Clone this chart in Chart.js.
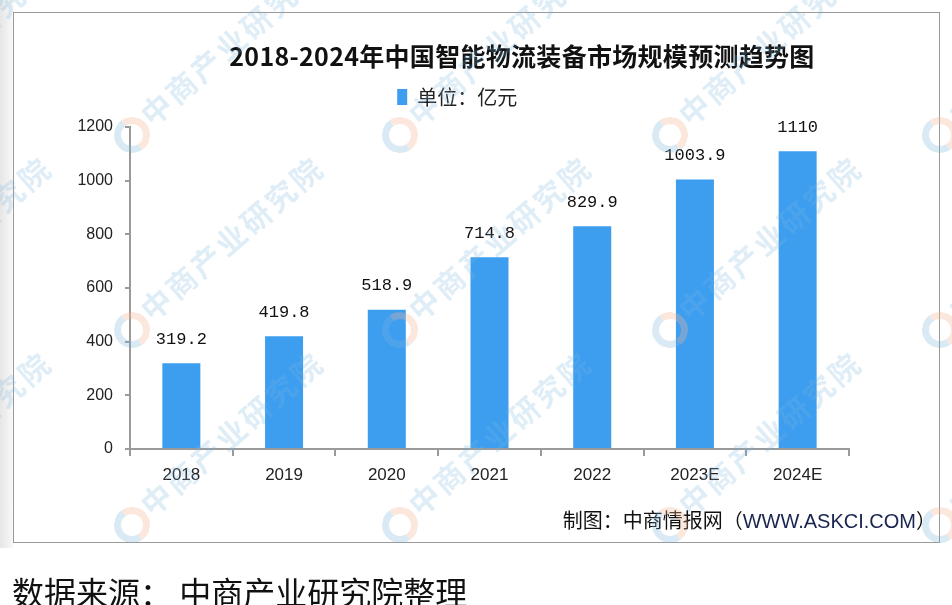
<!DOCTYPE html>
<html><head><meta charset="utf-8">
<script src="https://cdn.jsdelivr.net/npm/chart.js@4/dist/chart.umd.min.js"></script>
<style>
html,body{margin:0;padding:0;}
body{width:952px;height:605px;overflow:hidden;background:#fff;position:relative;font-family:"Noto Sans CJK SC","Noto Sans",sans-serif;}
#strip{position:absolute;left:0;top:0;width:14px;height:548px;background:linear-gradient(to right,#e6e6e6,#fafafa);}
#frame{position:absolute;left:13px;top:12px;width:925px;height:529px;border:1px solid #9a9a9a;background:#fff;}
#c{position:absolute;left:0;top:0;}
#title{position:absolute;left:522px;top:38px;transform:translateX(-50%);font-size:25px;font-weight:700;line-height:34px;color:#111;white-space:nowrap;letter-spacing:0.3px;}
#footer{position:absolute;right:16px;top:506px;font-size:20px;line-height:28px;color:#111;white-space:nowrap;}
#footer span{font-family:"Liberation Sans",Arial,sans-serif;color:#1a2450;}
#source{position:absolute;left:12px;top:569px;font-size:32px;line-height:44px;color:#111;white-space:nowrap;}
#wm{position:absolute;left:0;top:0;width:952px;height:545px;overflow:hidden;pointer-events:none;}
.wt{position:absolute;font-size:30px;line-height:34px;font-weight:700;color:rgba(120,180,220,0.24);white-space:nowrap;transform-origin:0 50%;transform:rotate(-41deg);letter-spacing:3px;}
.wl{position:absolute;width:22px;height:22px;border-radius:50%;border:7px solid;border-color:rgba(245,180,150,0.32) rgba(245,180,150,0.32) rgba(120,180,220,0.28) rgba(120,180,220,0.28);transform:rotate(10deg);}
</style></head>
<body>
<div id="strip"></div>
<div id="frame"></div>
<canvas id="c" width="952" height="605"></canvas>
<div id="title">2018-2024年中国智能物流装备市场规模预测趋势图</div>
<div id="footer">制图：中商情报网（<span>WWW.ASKCI.COM</span>）</div>
<div id="source">数据来源：&nbsp;中商产业研究院整理</div>
<div id="wm"></div>
<script>
// ---- data ----
const categories = ["2018","2019","2020","2021","2022","2023E","2024E"];
const marketSize = [319.2, 419.8, 518.9, 714.8, 829.9, 1003.9, 1110];
const seriesLabel = "单位：亿元";
const yTicks = [0, 200, 400, 600, 800, 1000, 1200];
const watermarkText = "中商产业研究院";

const target = {left:130, right:849, top:127, bottom:449};

const valueLabels = {
  id: 'valueLabels',
  afterDatasetsDraw(chart) {
    const ctx = chart.ctx;
    const meta = chart.getDatasetMeta(0);
    ctx.save();
    ctx.font = '17px "Liberation Mono", "DejaVu Sans Mono", monospace';
    ctx.fillStyle = '#111';
    ctx.textAlign = 'center';
    ctx.textBaseline = 'middle';
    meta.data.forEach((bar, i) => {
      ctx.fillText(String(marketSize[i]), bar.x, bar.y - 24);
    });
    ctx.restore();
  }
};

const axisColor = '#9a9a9a';
const yTickFont = {family: '"Liberation Sans", Arial, sans-serif', size: 16};
const xTickFont = {family: '"Liberation Sans", Arial, sans-serif', size: 17};

const chart = new Chart(document.getElementById('c'), {
  type: 'bar',
  data: {
    labels: categories,
    datasets: [{
      label: seriesLabel,
      data: marketSize,
      backgroundColor: '#3d9ef0',
      borderWidth: 0,
      barPercentage: 0.37,
      categoryPercentage: 1.0
    }]
  },
  options: {
    responsive: false,
    animation: false,
    layout: {padding: {left: 0, right: 103, top: 67, bottom: 100}},
    plugins: {
      legend: {
        position: 'top',
        weight: 1000,
        labels: {
          boxWidth: 10, boxHeight: 16, padding: 20,
          color: '#222',
          font: {family: '"Noto Sans CJK SC", sans-serif', size: 20}
        }
      },
      subtitle: {
        display: true,
        text: '',
        weight: 500,
        font: {size: 1, lineHeight: 1},
        padding: {top: 0, bottom: 8}
      },
      tooltip: {enabled: false},
      title: {display: false}
    },
    scales: {
      x: {
        offset: true,
        grid: {offset: true, drawOnChartArea: false, drawTicks: true, tickLength: 7, color: axisColor, lineWidth: 2},
        border: {display: true, color: axisColor, width: 2},
        ticks: {color: '#222', font: xTickFont, padding: 9, maxRotation: 0}
      },
      y: {
        min: 0, max: 1200,
        afterBuildTicks(scale) { scale.ticks = yTicks.map(v => ({value: v})); },
        grid: {drawOnChartArea: false, drawTicks: true, tickLength: 5, color: axisColor, lineWidth: 2},
        border: {display: true, color: axisColor, width: 2},
        ticks: {color: '#222', font: yTickFont, padding: 12, callback: v => String(v)}
      }
    }
  },
  plugins: [valueLabels]
});

for (let k = 0; k < 3; k++) {
  const a = chart.chartArea;
  const p = chart.options.layout.padding;
  const sub = chart.options.plugins.subtitle.padding;
  p.left += target.left - a.left;
  p.right += a.right - target.right;
  p.bottom += a.bottom - target.bottom;
  sub.bottom = Math.max(0, sub.bottom + (target.top - a.top));
  chart.update('none');
}

// ---- watermark layer ----
const wm = document.getElementById('wm');
const wmCols = [-140, 132, 400, 670, 940];
const wmRows = [135, 330, 525];
wmRows.forEach(y => wmCols.forEach(x => {
  const l = document.createElement('div');
  l.className = 'wl';
  l.style.left = (x - 18) + 'px';
  l.style.top = (y - 18) + 'px';
  wm.appendChild(l);
  const t = document.createElement('div');
  t.className = 'wt';
  t.textContent = watermarkText;
  t.style.left = (x + 12) + 'px';
  t.style.top = (y - 34) + 'px';
  wm.appendChild(t);
}));
</script>
</body></html>
